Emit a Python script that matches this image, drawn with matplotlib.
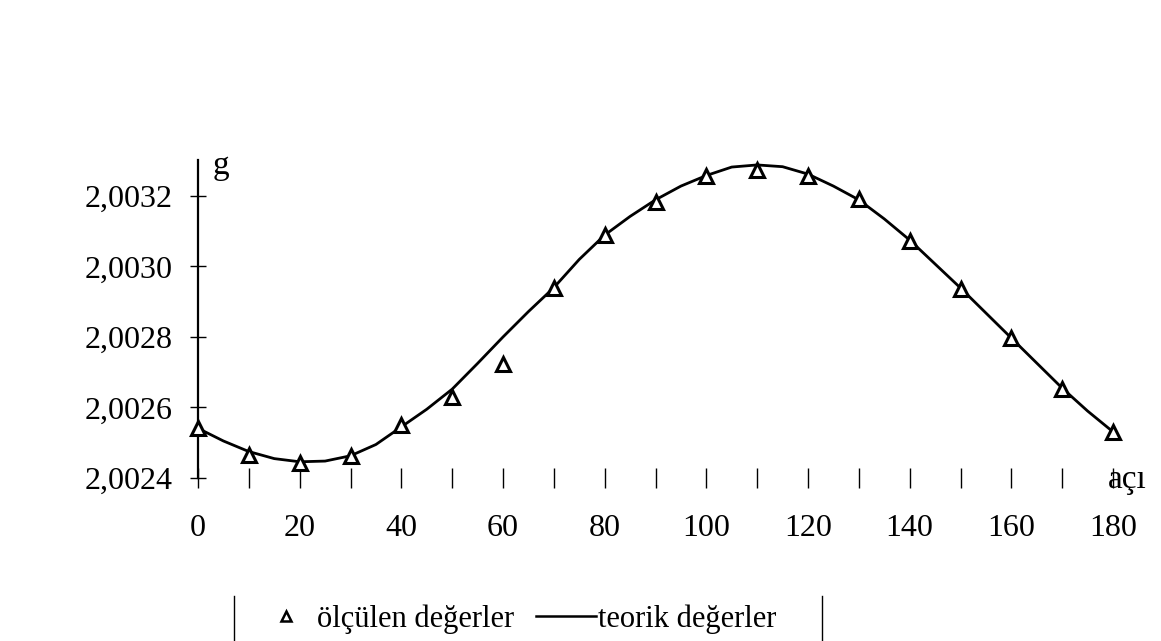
import numpy as np
import matplotlib
matplotlib.use("Agg")
import matplotlib.pyplot as plt
from matplotlib.lines import Line2D
from matplotlib.ticker import FixedLocator, FuncFormatter

# ---- data ----
aci_olculen = [0, 10, 20, 30, 40, 50, 60, 70, 80, 90,
               100, 110, 120, 130, 140, 150, 160, 170, 180]
g_olculen = [2.002541, 2.002465, 2.002443, 2.002462, 2.002550, 2.002631,
             2.002723, 2.002938, 2.003089, 2.003184, 2.003257, 2.003274,
             2.003257, 2.003191, 2.003073, 2.002935, 2.002796, 2.002652,
             2.002531]

aci_teorik = [0, 5, 10, 15, 20, 25, 30, 35, 40, 45, 50, 55, 60, 65, 70,
              75, 80, 85, 90, 95, 100, 105, 110, 115, 120, 125, 130, 135,
              140, 145, 150, 155, 160, 165, 170, 175, 180]
g_teorik = [2.002541, 2.002505, 2.002475, 2.002455, 2.002446, 2.002448,
            2.002463, 2.002495, 2.002545, 2.002595, 2.002652, 2.002725,
            2.002800, 2.002872, 2.002940, 2.003020, 2.003089, 2.003142,
            2.003189, 2.003228, 2.003258, 2.003282, 2.003288, 2.003283,
            2.003262, 2.003228, 2.003189, 2.003135, 2.003075, 2.003007,
            2.002939, 2.002868, 2.002797, 2.002726, 2.002655, 2.002590,
            2.002531]

x_ticks_major = [0, 20, 40, 60, 80, 100, 120, 140, 160, 180]
x_ticks_minor = [10, 30, 50, 70, 90, 110, 130, 150, 170]
y_ticks = [2.0024, 2.0026, 2.0028, 2.0030, 2.0032]

# ---- figure ----
plt.rcParams['font.family'] = ['Liberation Serif', 'DejaVu Serif']

fig = plt.figure(figsize=(11.61, 6.41), dpi=100)
ax = fig.add_axes([198 / 1161, 163 / 641, 915 / 1161, 318 / 641])

ax.plot(aci_teorik, g_teorik, color='black', lw=2.0, clip_on=False,
        zorder=2)
ax.plot(aci_olculen, g_olculen, linestyle='none', marker='^',
        markersize=9.5, markerfacecolor='white', markeredgecolor='black',
        markeredgewidth=2.2, clip_on=False, zorder=3)

ax.set_xlim(0, 180)
ax.set_ylim(2.0024, 2.003302)

for s in ['top', 'right', 'bottom']:
    ax.spines[s].set_visible(False)
ax.spines['left'].set_linewidth(1.6)

ax.xaxis.set_major_locator(FixedLocator(x_ticks_major))
ax.xaxis.set_minor_locator(FixedLocator(x_ticks_minor))
ax.yaxis.set_major_locator(FixedLocator(y_ticks))
ax.yaxis.set_major_formatter(
    FuncFormatter(lambda v, p: ('%.4f' % v).replace('.', ',')))

ax.tick_params(axis='x', which='both', direction='inout', length=14,
               width=1.0, labelsize=23, pad=19)
ax.tick_params(axis='y', which='both', direction='inout', length=12,
               width=1.0, labelsize=23, pad=12)

fig.text(221 / 1161, 1 - 166 / 641, 'g', fontsize=24, ha='center',
         va='center')
fig.text(1127 / 1161, 1 - 480 / 641, 'açı', fontsize=24, ha='center',
         va='center')

# ---- legend ----
h1 = Line2D([], [], linestyle='none', marker='^', markersize=6.5,
            markerfacecolor='white', markeredgecolor='black',
            markeredgewidth=1.8)
h2 = Line2D([], [], color='black', lw=1.8)
fig.legend([h1, h2], ['ölçülen değerler', 'teorik değerler'],
           loc='center', bbox_to_anchor=(516 / 1161, 1 - 619 / 641),
           ncol=2, frameon=False, fontsize=22, handlelength=1.96,
           handletextpad=0.05, columnspacing=0.72)

for xb in [234, 822]:
    fig.add_artist(Line2D([xb / 1161, xb / 1161], [0, 45 / 641],
                          color='black', lw=1.0))

fig.savefig('out.png', dpi=100)
